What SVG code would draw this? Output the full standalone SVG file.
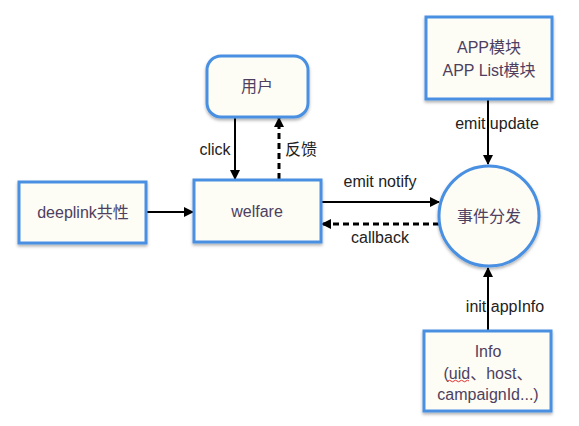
<svg xmlns="http://www.w3.org/2000/svg" width="579" height="426" viewBox="0 0 579 426">
<defs>
<filter id="sh" x="-20%" y="-20%" width="140%" height="150%">
<feDropShadow dx="0" dy="2" stdDeviation="1.5" flood-color="#000" flood-opacity="0.3"/>
</filter>
<marker id="ah" markerWidth="10" markerHeight="10" refX="9" refY="5" orient="auto" markerUnits="userSpaceOnUse">
<path d="M0,0 L10,5 L0,10 Z" fill="#000"/>
</marker>
</defs>
<style>
.n{fill:#fdfcf5;stroke:#4a90e2;stroke-width:3;filter:url(#sh)}
.t{font-family:"Liberation Sans",Arial,"Noto Sans CJK SC",sans-serif;font-size:16px;fill:#4e3f60;text-anchor:middle}
.l{font-family:"Liberation Sans",Arial,"Noto Sans CJK SC",sans-serif;font-size:16px;fill:#222;text-anchor:middle}
.c{stroke:#000;stroke-width:2;fill:none;marker-end:url(#ah)}
.d{stroke-width:3;stroke-dasharray:6,4}
</style>
<rect width="579" height="426" fill="#fff"/>
<g id="connectors">
<line class="c" x1="147" y1="212" x2="193" y2="212"/>
<line class="c" x1="235" y1="118" x2="235" y2="179"/>
<line class="c d" x1="279" y1="179" x2="279" y2="118"/>
<line class="c" x1="322" y1="202" x2="439" y2="202"/>
<line class="c d" x1="439" y1="224" x2="322" y2="224"/>
<line class="c" x1="488" y1="100" x2="488" y2="164"/>
<line class="c" x1="488" y1="330" x2="488" y2="268"/>
<text class="l" x="215" y="155">click</text>
<text class="l" x="301" y="155">反馈</text>
<text class="l" x="380" y="187">emit notify</text>
<text class="l" x="380" y="243">callback</text>
<text class="l" x="497" y="129">emit update</text>
<text class="l" x="505" y="312">init appInfo</text>
</g>
<g id="user">
<rect class="n" x="207" y="56" width="101" height="61" rx="14"/>
<text class="t" x="257" y="92">用户</text>
</g>
<g id="deeplink">
<rect class="n" x="19" y="182" width="127" height="61"/>
<text class="t" x="83" y="218">deeplink共性</text>
</g>
<g id="welfare">
<rect class="n" x="194" y="180" width="127" height="62"/>
<text class="t" x="257" y="217">welfare</text>
</g>
<g id="app">
<rect class="n" x="426" y="17" width="126" height="82"/>
<text class="t" x="489" y="53">APP模块</text>
<text class="t" x="489" y="76">APP List模块</text>
</g>
<g id="dispatch">
<circle class="n" cx="489" cy="216" r="50"/>
<text class="t" x="489" y="222">事件分发</text>
</g>
<g id="info">
<rect class="n" x="424" y="331" width="127" height="80"/>
<text class="t" x="488" y="357">Info</text>
<text class="t" x="488" y="379">(uid、host、</text>
<text class="t" x="488" y="400">campaignId...)</text>
<path d="M448,381 q1.5,-1.5 3,0 t3,0 t3,0 t3,0 t3,0 t3,0 t3,0" stroke="#e03030" stroke-width="1" fill="none"/>
</g>
</svg>
